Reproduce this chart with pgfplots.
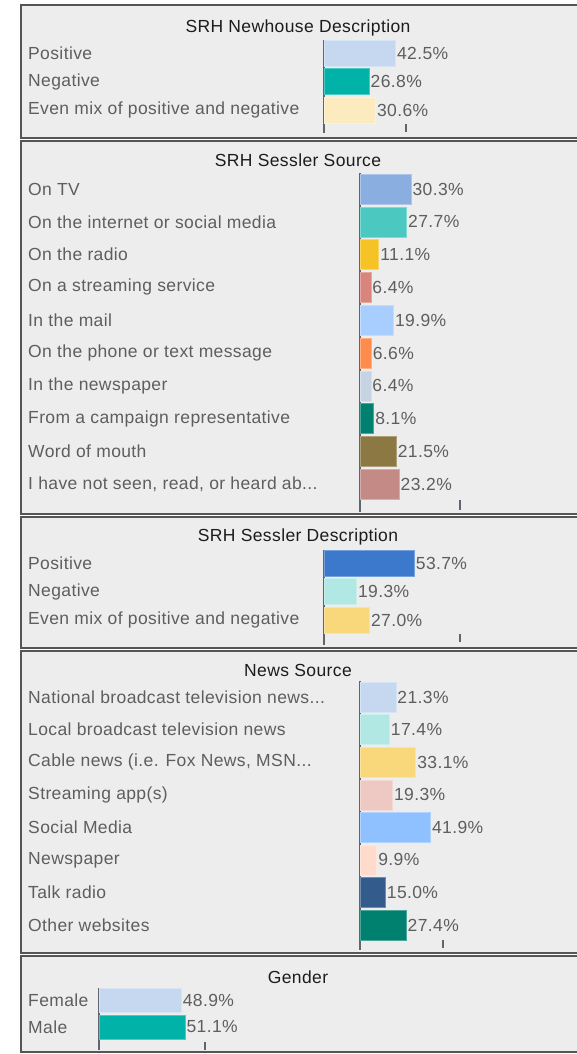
\documentclass[border=0pt]{standalone}
\usepackage{fontspec}
\setmainfont[LetterSpace=2.2]{Liberation Sans}
\usepackage{pgfplots}
\pgfplotsset{compat=1.18}
\definecolor{panelbg}{HTML}{EDEDED}
\definecolor{bordergray}{HTML}{555555}
\definecolor{axisgray}{HTML}{5F6670}
\definecolor{labelgray}{HTML}{5E5E5E}
\definecolor{titlegray}{HTML}{1C1C1C}
\definecolor{lightblue}{HTML}{C6D8F0}
\definecolor{teal}{HTML}{00B2A7}
\definecolor{lightyellow}{HTML}{FDEBC0}
\definecolor{tvblue}{HTML}{8AAEE0}
\definecolor{netteal}{HTML}{4BC8C0}
\definecolor{radioyellow}{HTML}{F5C325}
\definecolor{streamred}{HTML}{D9847C}
\definecolor{mailblue}{HTML}{A8CEFF}
\definecolor{phoneorange}{HTML}{FF8C4D}
\definecolor{paperblue}{HTML}{C6D3E2}
\definecolor{darkteal}{HTML}{00806F}
\definecolor{mouthbrown}{HTML}{8B7843}
\definecolor{notseen}{HTML}{C48A86}
\definecolor{posblue}{HTML}{3C78CC}
\definecolor{paleteal}{HTML}{B2E8E3}
\definecolor{goldyellow}{HTML}{F9D87C}
\definecolor{palepink}{HTML}{EEC9C4}
\definecolor{socialblue}{HTML}{8FC0FF}
\definecolor{peach}{HTML}{FFDBCD}
\definecolor{navy}{HTML}{335C8C}
\newcommand\lbl{\fontsize{17.5}{20}\selectfont}
\newcommand\tdots{...}
\pgfplotsset{
  panel/.style={
    anchor=north west,
    x=1.68pt, xmin=0, xmax=60,
    hide x axis,
    axis y line*=left,
    y axis line style={line width=2pt, draw=axisgray},
    y dir=reverse,
    major tick length=0pt,
    ytick style={draw=none},
    yticklabel style={anchor=west, inner sep=0pt, text=labelgray, font=\lbl},
    xbar,
    every axis plot/.append style={bar shift=0pt},
    nodes near coords={\pgfmathprintnumber[fixed,fixed zerofill,precision=1]{\pgfplotspointmeta}\%},
    point meta=x,
    every node near coord/.append style={anchor=west, inner sep=1.5pt, text=labelgray, font=\lbl},
    clip=false,
    /pgf/number format/assume math mode=true,
  }
}
\begin{document}
\begin{tikzpicture}
\useasboundingbox (0,0) rectangle (576pt,1054pt);
% panels
\foreach \a/\b in {916/1049, 540/913, 406/537, 101/403, 2/98}{
  \fill[panelbg] (21pt,\a pt) rectangle (600pt,\b pt);
  \draw[bordergray, line width=1.6pt] (21pt,\a pt) rectangle (600pt,\b pt);
}
% titles
\node[font=\lbl, text=titlegray] at (298pt,1026pt) {SRH Newhouse Description};
\node[font=\lbl, text=titlegray] at (298pt,894pt) {SRH Sessler Source};
\node[font=\lbl, text=titlegray] at (298pt,517pt) {SRH Sessler Description};
\node[font=\lbl, text=titlegray] at (298pt,384pt) {News Source};
\node[font=\lbl, text=titlegray] at (298pt,77pt) {Gender};

% Panel 1
\begin{axis}[panel, at={(324pt,1014pt)}, y=28.5pt, ymin=-0.456, ymax=2.807, bar width=26pt,
  ytick={0,1,2}, yticklabels={Positive,Negative,Even mix of positive and negative},
  yticklabel style={xshift=-296pt}]
\addplot[fill=lightblue, draw=lightblue!70!white] coordinates {(42.5,0)};
\addplot[fill=teal, draw=teal!70!white] coordinates {(26.8,1)};
\addplot[fill=lightyellow, draw=lightyellow!70!white] coordinates {(30.6,2)};
\end{axis}

% Panel 2
\begin{axis}[panel, at={(360pt,881pt)}, y=32.8pt, ymin=-0.488, ymax=9.848, bar width=30pt,
  ytick={0,1,2,3,4,5,6,7,8,9}, yticklabels={On TV,On the internet or social media,On the radio,On a streaming service,In the mail,On the phone or text message,In the newspaper,From a campaign representative,Word of mouth,{I have not seen, read, or heard ab\tdots}},
  yticklabel style={xshift=-332pt}]
\addplot[fill=tvblue, draw=tvblue!70!white] coordinates {(30.3,0)};
\addplot[fill=netteal, draw=netteal!70!white] coordinates {(27.7,1)};
\addplot[fill=radioyellow, draw=radioyellow!70!white] coordinates {(11.1,2)};
\addplot[fill=streamred, draw=streamred!70!white] coordinates {(6.4,3)};
\addplot[fill=mailblue, draw=mailblue!70!white] coordinates {(19.9,4)};
\addplot[fill=phoneorange, draw=phoneorange!70!white] coordinates {(6.6,5)};
\addplot[fill=paperblue, draw=paperblue!70!white] coordinates {(6.4,6)};
\addplot[fill=darkteal, draw=darkteal!70!white] coordinates {(8.1,7)};
\addplot[fill=mouthbrown, draw=mouthbrown!70!white] coordinates {(21.5,8)};
\addplot[fill=notseen, draw=notseen!70!white] coordinates {(23.2,9)};
\end{axis}

% Panel 3
\begin{axis}[panel, at={(324pt,504pt)}, y=28.5pt, ymin=-0.456, ymax=2.877, bar width=26pt,
  ytick={0,1,2}, yticklabels={Positive,Negative,Even mix of positive and negative},
  yticklabel style={xshift=-296pt}]
\addplot[fill=posblue, draw=posblue!70!white] coordinates {(53.7,0)};
\addplot[fill=paleteal, draw=paleteal!70!white] coordinates {(19.3,1)};
\addplot[fill=goldyellow, draw=goldyellow!70!white] coordinates {(27.0,2)};
\end{axis}

% Panel 4
\begin{axis}[panel, at={(360pt,373pt)}, y=32.57pt, ymin=-0.491, ymax=7.768, bar width=30pt,
  ytick={0,1,2,3,4,5,6,7}, yticklabels={National broadcast television news\tdots,Local broadcast television news,{Cable news (i.e. Fox News, MSN\tdots},Streaming app(s),Social Media,Newspaper,Talk radio,Other websites},
  yticklabel style={xshift=-332pt}]
\addplot[fill=lightblue, draw=lightblue!70!white] coordinates {(21.3,0)};
\addplot[fill=paleteal, draw=paleteal!70!white] coordinates {(17.4,1)};
\addplot[fill=goldyellow, draw=goldyellow!70!white] coordinates {(33.1,2)};
\addplot[fill=palepink, draw=palepink!70!white] coordinates {(19.3,3)};
\addplot[fill=socialblue, draw=socialblue!70!white] coordinates {(41.9,4)};
\addplot[fill=peach, draw=peach!70!white] coordinates {(9.9,5)};
\addplot[fill=navy, draw=navy!70!white] coordinates {(15.0,6)};
\addplot[fill=darkteal, draw=darkteal!70!white] coordinates {(27.4,7)};
\end{axis}

% Panel 5
\begin{axis}[panel, at={(99pt,66pt)}, y=27pt, ymin=-0.444, ymax=1.852, bar width=24pt,
  ytick={0,1}, yticklabels={Female,Male},
  yticklabel style={xshift=-71pt}]
\addplot[fill=lightblue, draw=lightblue!70!white] coordinates {(48.9,0)};
\addplot[fill=teal, draw=teal!70!white] coordinates {(51.1,1)};
\end{axis}

% small x tick marks
\foreach \x/\ya/\yb in {406/930/922, 460/554/544, 460/420/412, 443/114/106, 205/12/4}{
  \draw[axisgray, line width=2pt] (\x pt,\ya pt) -- (\x pt,\yb pt);
}
\end{tikzpicture}
\end{document}
